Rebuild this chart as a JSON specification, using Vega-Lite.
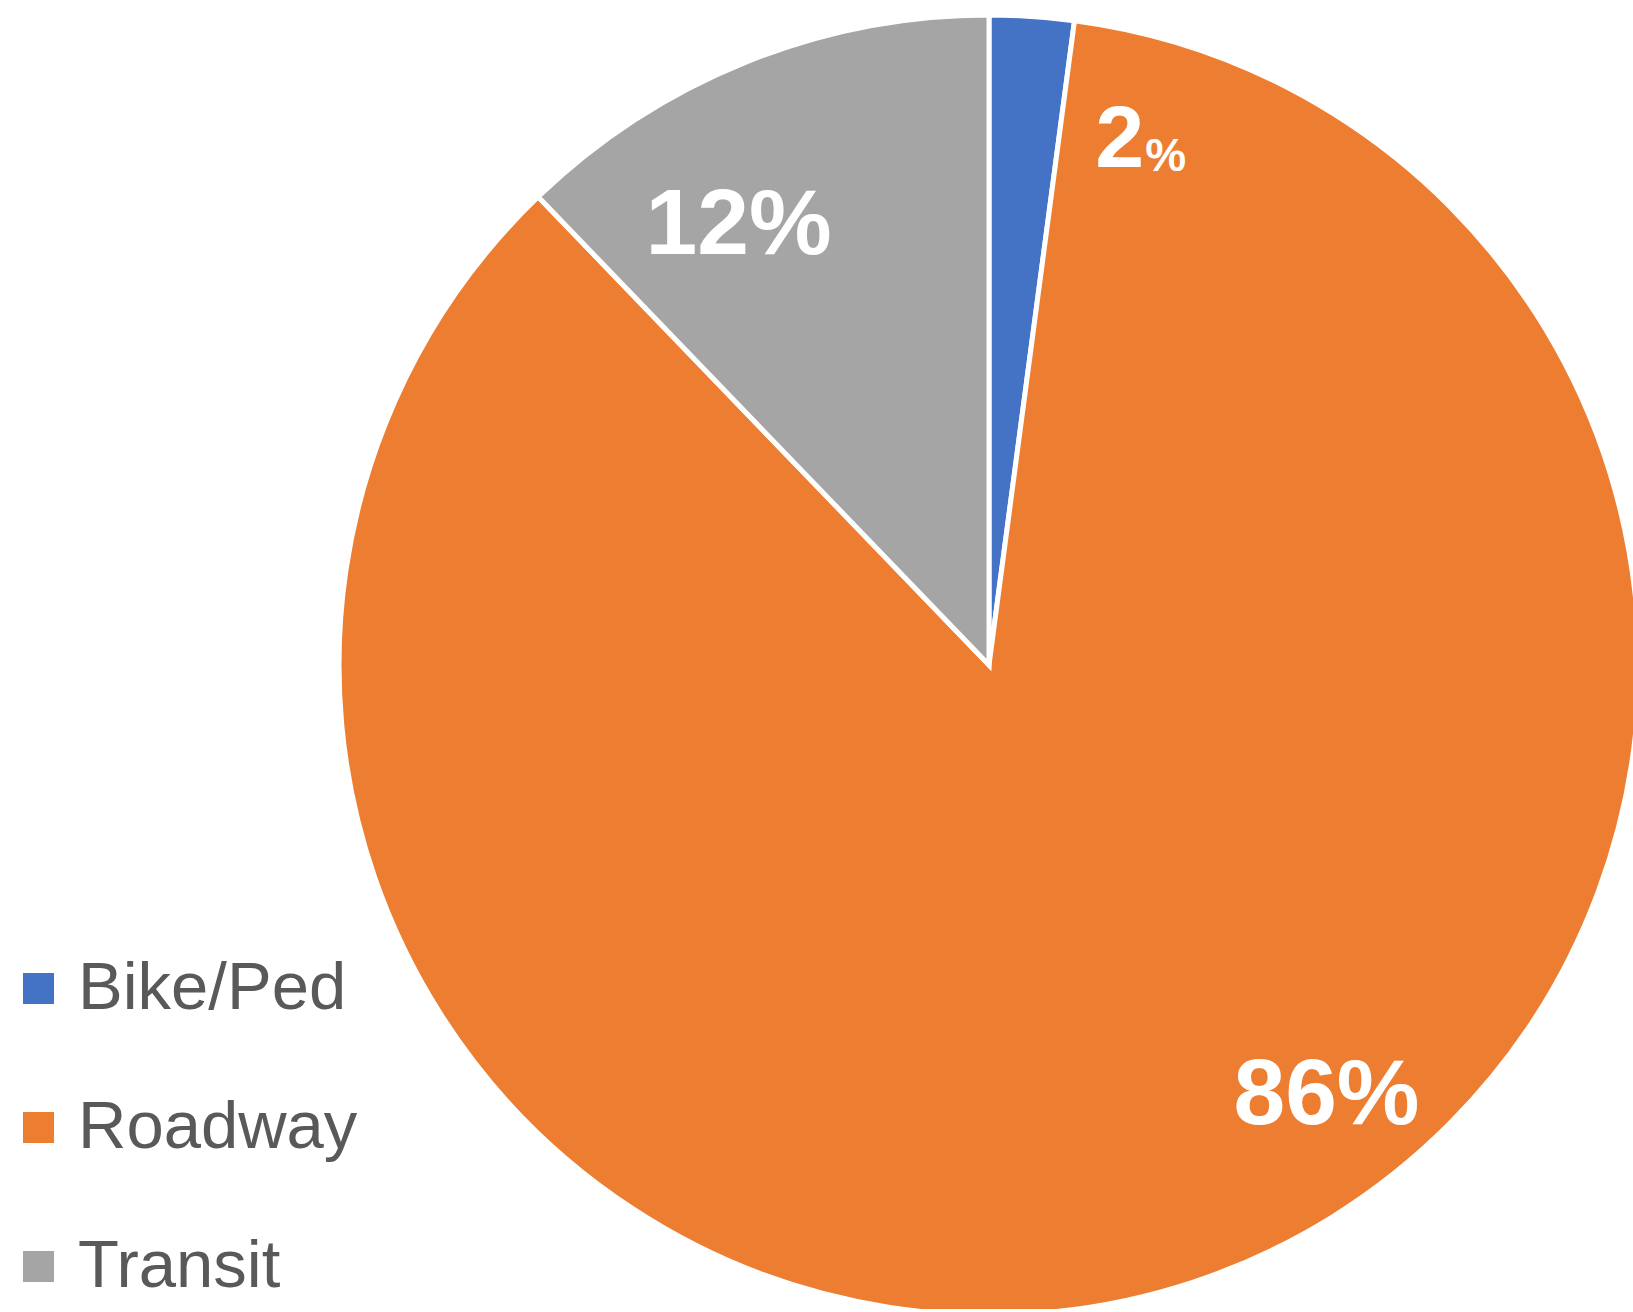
{
  "$schema": "https://vega.github.io/schema/vega-lite/v6.json",
  "width": 1288,
  "height": 1288,
  "autosize": {"type": "none"},
  "padding": {"left": 345, "top": 21, "right": 0, "bottom": 0},
  "background": "white",
  "config": {"view": {"stroke": null}},
  "data": {
    "values": [
      {"category": "Bike/Ped", "value": 2.1, "label": "2"},
      {"category": "Roadway", "value": 85.7, "label": "86%"},
      {"category": "Transit", "value": 12.2, "label": "12%"}
    ]
  },
  "layer": [
    {
      "mark": {"type": "arc", "radius": 650, "stroke": "white", "strokeWidth": 5},
      "encoding": {
        "theta": {"field": "value", "type": "quantitative", "stack": true},
        "order": {"field": "category", "type": "nominal", "sort": "ascending"},
        "color": {
          "field": "category",
          "type": "nominal",
          "scale": {"domain": ["Bike/Ped", "Roadway", "Transit"], "range": ["#4472C4", "#ED7D31", "#A5A5A5"]},
          "legend": {
            "title": null,
            "orient": "none",
            "legendX": -340,
            "legendY": 934,
            "padding": 0,
            "symbolType": "square",
            "symbolSize": 961,
            "symbolStrokeWidth": 0,
            "labelFont": "Liberation Sans",
            "labelFontSize": 67,
            "labelColor": "#595959",
            "labelOffset": 6,
            "rowPadding": 71,
            "labelLimit": 600
          }
        }
      }
    },
    {
      "mark": {"type": "text", "radius": 480, "dx": -71, "dy": 6, "font": "Liberation Sans", "fontWeight": "bold", "fontSize": 93, "fill": "white", "align": "center", "baseline": "middle"},
      "encoding": {
        "theta": {"field": "value", "type": "quantitative", "stack": true},
        "order": {"field": "category", "type": "nominal", "sort": "ascending"},
        "text": {"condition": {"test": "datum.category === 'Transit'", "field": "label"}, "value": ""}
      }
    },
    {
      "mark": {"type": "text", "radius": 447, "dx": 198, "dy": 6, "font": "Liberation Sans", "fontWeight": "bold", "fontSize": 93, "fill": "white", "align": "center", "baseline": "middle"},
      "encoding": {
        "theta": {"field": "value", "type": "quantitative", "stack": true},
        "order": {"field": "category", "type": "nominal", "sort": "ascending"},
        "text": {"condition": {"test": "datum.category === 'Roadway'", "field": "label"}, "value": ""}
      }
    },
    {
      "mark": {"type": "text", "radius": 528, "dx": 96, "dy": 3, "font": "Liberation Sans", "fontWeight": "bold", "fontSize": 88, "fill": "white", "align": "center", "baseline": "middle"},
      "encoding": {
        "theta": {"field": "value", "type": "quantitative", "stack": true},
        "order": {"field": "category", "type": "nominal", "sort": "ascending"},
        "text": {"condition": {"test": "datum.category === 'Bike/Ped'", "field": "label"}, "value": ""}
      }
    },
    {
      "mark": {"type": "text", "radius": 512, "dx": 143, "dy": 3, "font": "Liberation Sans", "fontWeight": "bold", "fontSize": 46, "fill": "white", "align": "center", "baseline": "middle"},
      "encoding": {
        "theta": {"field": "value", "type": "quantitative", "stack": true},
        "order": {"field": "category", "type": "nominal", "sort": "ascending"},
        "text": {"condition": {"test": "datum.category === 'Bike/Ped'", "value": "%"}, "value": ""}
      }
    }
  ]
}
